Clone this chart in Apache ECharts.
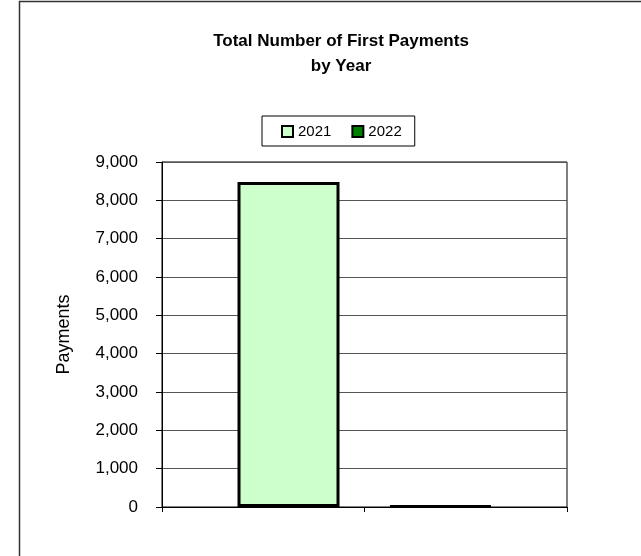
<!DOCTYPE html>
<html>
<head>
<meta charset="utf-8">
<script src="https://cdn.jsdelivr.net/npm/echarts@6/dist/echarts.min.js"></script>
<style>
html,body{margin:0;padding:0;background:#fff;}
#chart{width:641px;height:556px;}
</style>
</head>
<body>
<div id="chart"></div>
<script>
const categories = [''];
const tickCategories = ['', ''];
const seriesNames = ['2021', '2022'];
const values2021 = [8480];
const values2022 = [25];
const yTicks = [0, 1000, 2000, 3000, 4000, 5000, 6000, 7000, 8000, 9000];

const FONT = '"Liberation Sans", Arial, sans-serif';
const chart = echarts.init(document.getElementById('chart'), null, {renderer: 'canvas'});
chart.setOption({
  backgroundColor: '#fff',
  animation: false,
  title: {
    text: 'Total Number of First Payments\nby Year',
    left: 336, textAlign: 'center', top: 24,
    textStyle: {fontFamily: FONT, fontWeight: 'bold', fontSize: 17, lineHeight: 25, color: '#000'}
  },
  legend: {
    left: 262, top: 116,
    padding: [8, 13, 7, 19],
    itemGap: 20,
    itemWidth: 11, itemHeight: 11,
    borderColor: '#000', borderWidth: 1,
    icon: 'rect',
    textStyle: {fontFamily: FONT, fontSize: 15, color: '#000'},
    data: seriesNames
  },
  grid: {left: 162, right: 74, top: 162, bottom: 49, show: true, borderColor: '#000', borderWidth: 1, containLabel: false},
  xAxis: [{
    type: 'category', data: categories,
    axisLine: {lineStyle: {color: '#000', width: 1}},
    axisTick: {show: false},
    axisLabel: {show: false}
  }, {
    type: 'category', data: tickCategories, position: 'bottom',
    axisLine: {show: false},
    axisTick: {show: true, length: 5, lineStyle: {color: '#000'}},
    axisLabel: {show: false}
  }],
  yAxis: {
    type: 'value', min: yTicks[0], max: yTicks[yTicks.length - 1], interval: 1000,
    name: 'Payments', nameLocation: 'middle', nameGap: 89, nameRotate: 90,
    nameTextStyle: {fontFamily: FONT, fontSize: 18, color: '#000'},
    axisLine: {show: true, lineStyle: {color: '#000'}},
    axisTick: {show: true, length: 6, lineStyle: {color: '#000'}},
    axisLabel: {fontFamily: FONT, fontSize: 17, color: '#000', margin: 24,
      formatter: v => v.toLocaleString('en-US')},
    splitLine: {lineStyle: {color: '#555', width: 1}}
  },
  series: [
    {name: seriesNames[0], type: 'bar', xAxisIndex: 0, data: values2021, barWidth: 102, barGap: '49%',
      itemStyle: {color: '#CCFFCC', borderColor: '#000', borderWidth: 3}},
    {name: seriesNames[1], type: 'bar', xAxisIndex: 0, data: values2022, barWidth: 102, barGap: '49%',
      itemStyle: {color: '#008000', borderColor: '#000', borderWidth: 3}}
  ],
  graphic: [{
    type: 'rect', silent: true, z: 100,
    shape: {x: 19.5, y: 1.5, width: 700, height: 700},
    style: {fill: null, stroke: '#333', lineWidth: 1.5}
  }]
});
</script>
</body>
</html>
